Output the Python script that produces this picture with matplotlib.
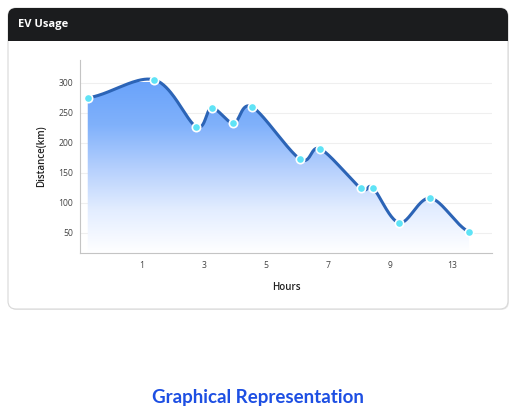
import numpy as np
import matplotlib
matplotlib.use("Agg")
import matplotlib.pyplot as plt
from matplotlib.patches import FancyBboxPatch, Rectangle, Polygon
from matplotlib.colors import LinearSegmentedColormap

# data
hours = [-0.75, 1.4, 2.75, 3.25, 3.95, 4.55, 6.1, 6.75, 8.05, 8.45, 9.3, 10.3, 11.55]
distance = [275, 305, 227, 258, 233, 260, 173, 190, 125, 125, 67, 108, 52]
tick_pos = [1, 3, 5, 7, 9, 11]
tick_labels = ["1", "3", "5", "7", "9", "13"]
yticks = [50, 100, 150, 200, 250, 300]

plt.rcParams['font.family'] = ['Open Sans', 'DejaVu Sans']


def catmull_rom(x, y, n=40):
    x = np.asarray(x, float)
    y = np.asarray(y, float)
    px = np.concatenate([[2 * x[0] - x[1]], x, [2 * x[-1] - x[-2]]])
    py = np.concatenate([[y[0]], y, [y[-1]]])
    xs, ys = [], []
    for i in range(1, len(px) - 2):
        t = np.linspace(0, 1, n, endpoint=False)
        for arr, out in ((px, xs), (py, ys)):
            p0, p1, p2, p3 = arr[i - 1], arr[i], arr[i + 1], arr[i + 2]
            out.append(0.5 * ((2 * p1) + (-p0 + p2) * t
                              + (2 * p0 - 5 * p1 + 4 * p2 - p3) * t ** 2
                              + (-p0 + 3 * p1 - 3 * p2 + p3) * t ** 3))
    xs.append([x[-1]])
    ys.append([y[-1]])
    return np.concatenate(xs), np.concatenate(ys)


fig = plt.figure(figsize=(5.16, 4.08), dpi=100)

# background card drawn in pixel coordinates
bg = fig.add_axes([0, 0, 1, 1])
bg.set_xlim(0, 516)
bg.set_ylim(408, 0)
bg.axis("off")
bg.add_patch(FancyBboxPatch((9, 10), 500, 300, boxstyle="round,pad=0,rounding_size=8",
                            fc="#ebebeb", ec="none", zorder=0))
bg.add_patch(FancyBboxPatch((8, 8), 500, 301, boxstyle="round,pad=0,rounding_size=8",
                            fc="white", ec="#d8d8d8", lw=0.8, zorder=1))
bg.add_patch(FancyBboxPatch((8, 8), 500, 33, boxstyle="round,pad=0,rounding_size=8",
                            fc="#1b1c1e", ec="none", zorder=2))
bg.add_patch(Rectangle((8, 28), 500, 13, fc="#1b1c1e", ec="none", zorder=2))
bg.text(18, 25, "EV Usage", color="white", fontsize=8, fontweight="bold",
        va="center", ha="left", zorder=3)
bg.text(258, 397, "Graphical Representation", color="#1d4fe3", fontsize=13.5,
        fontweight="bold", va="center", ha="center", family=["Lato", "DejaVu Sans"])

ax = fig.add_axes([80 / 516, 1 - 253 / 408, 412 / 516, 193 / 408])
ax.set_facecolor("none")
xlim = (-1.0, 12.29)
ylim = (16.7, 338)
ax.set_xlim(*xlim)
ax.set_ylim(*ylim)

sx, sy = catmull_rom(hours, distance)

# gradient fill under the curve
cmap = LinearSegmentedColormap.from_list("g", ["#ffffff", "#e3edff", "#b4cffd", "#80b1fb", "#6aa3fa"])
grad = np.linspace(0, 1, 256).reshape(-1, 1)
img = ax.imshow(grad, cmap=cmap, aspect="auto", origin="lower",
                extent=[xlim[0], xlim[1], ylim[0], 300], zorder=1)
poly = Polygon(np.column_stack([np.concatenate([sx, [sx[-1], sx[0]]]),
                                np.concatenate([sy, [ylim[0], ylim[0]]])]),
               closed=True, fc="none", ec="none")
ax.add_patch(poly)
img.set_clip_path(poly)

ax.plot(sx, sy, color="#2c64b6", lw=2.2, zorder=3, solid_capstyle="round")
ax.plot(hours, distance, "o", ms=6, mfc="#5fe3f6", mec="white", mew=1.2, zorder=4)

ax.set_axisbelow(True)
ax.set_yticks(yticks)
ax.set_xticks(tick_pos)
ax.set_xticklabels(tick_labels)
ax.tick_params(length=0, labelsize=6.2, labelcolor="#444444")
ax.tick_params(axis="y", pad=5)
ax.tick_params(axis="x", pad=5.5)
ax.grid(axis="y", color="#efefef", lw=0.8)
for s in ["top", "right"]:
    ax.spines[s].set_visible(False)
for s in ["left", "bottom"]:
    ax.spines[s].set_color("#c4c4c4")
    ax.spines[s].set_linewidth(0.8)

ax.set_ylabel("Distance(km)", fontsize=7, fontweight="semibold", color="#222222", labelpad=8)
ax.set_xlabel("Hours", fontsize=7, fontweight="semibold", color="#222222", labelpad=9)

fig.savefig("out.png", dpi=100)
